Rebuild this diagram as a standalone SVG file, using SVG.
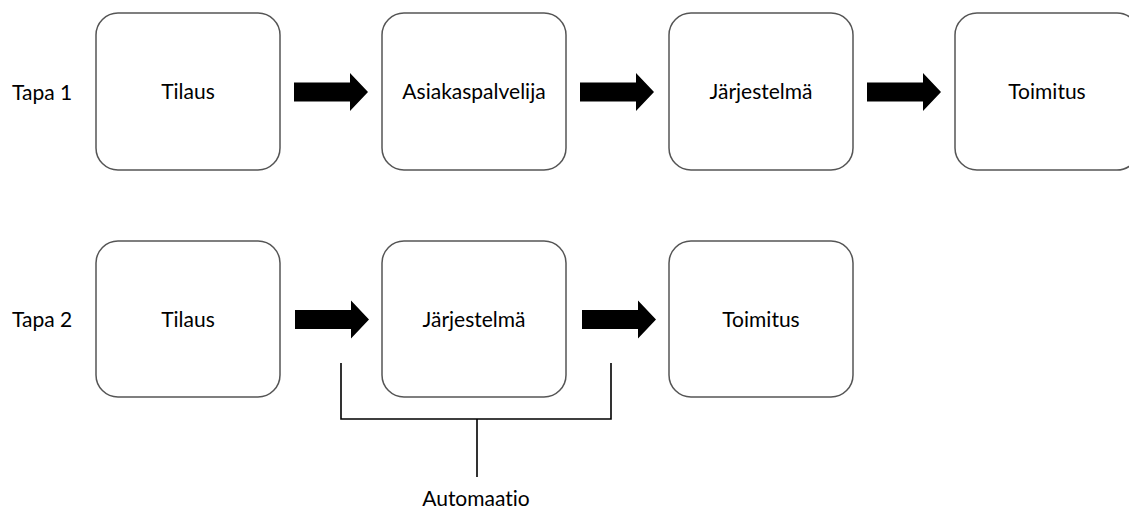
<svg xmlns="http://www.w3.org/2000/svg" width="1129" height="508" viewBox="0 0 1129 508">
<style>
.box{fill:#fff;stroke:#555;stroke-width:1.5}
.t{font-family:Lato,"Open Sans","DejaVu Sans",sans-serif;font-size:21px;fill:#000;text-anchor:middle;font-variant-ligatures:none}
.lbl{font-family:Lato,"Open Sans","DejaVu Sans",sans-serif;font-size:21px;fill:#000}
.arr{fill:#000}
.br{fill:none;stroke:#000;stroke-width:1.6}
</style>
<defs>
<path id="ar" d="M0,-9.5 H56 V-19 L74,0 L56,19 V9.5 H0 Z"/>
</defs>
<rect width="1129" height="508" fill="#fff"/>
<text class="lbl" x="12" y="100">Tapa 1</text>
<text class="lbl" x="12" y="327">Tapa 2</text>
<g id="r1-tilaus"><rect class="box" x="96" y="13" width="184" height="157" rx="22"/><text class="t" x="188" y="99">Tilaus</text></g>
<g id="r1-asiakaspalvelija"><rect class="box" x="382" y="13" width="184" height="157" rx="22"/><text class="t" x="474" y="99">Asiakaspalvelija</text></g>
<g id="r1-jarjestelma"><rect class="box" x="669" y="13" width="184" height="157" rx="22"/><text class="t" x="761" y="99">Järjestelmä</text></g>
<g id="r1-toimitus"><rect class="box" x="955" y="13" width="184" height="157" rx="22"/><text class="t" x="1047" y="99">Toimitus</text></g>
<g id="r2-tilaus"><rect class="box" x="96" y="241" width="184" height="156" rx="22"/><text class="t" x="188" y="327">Tilaus</text></g>
<g id="r2-jarjestelma"><rect class="box" x="382" y="241" width="184" height="156" rx="22"/><text class="t" x="474" y="327">Järjestelmä</text></g>
<g id="r2-toimitus"><rect class="box" x="669" y="241" width="184" height="156" rx="22"/><text class="t" x="761" y="327">Toimitus</text></g>
<g id="connectors">
<use href="#ar" class="arr" x="294" y="92"/>
<use href="#ar" class="arr" x="580" y="92"/>
<use href="#ar" class="arr" x="867" y="92"/>
<use href="#ar" class="arr" x="295" y="319.5"/>
<use href="#ar" class="arr" x="582" y="319.5"/>
</g>
<g id="automaatio">
<path class="br" d="M341,363 V419 H611 V363 M477,419 V477"/>
<text class="t" x="476" y="506">Automaatio</text>
</g>
</svg>
